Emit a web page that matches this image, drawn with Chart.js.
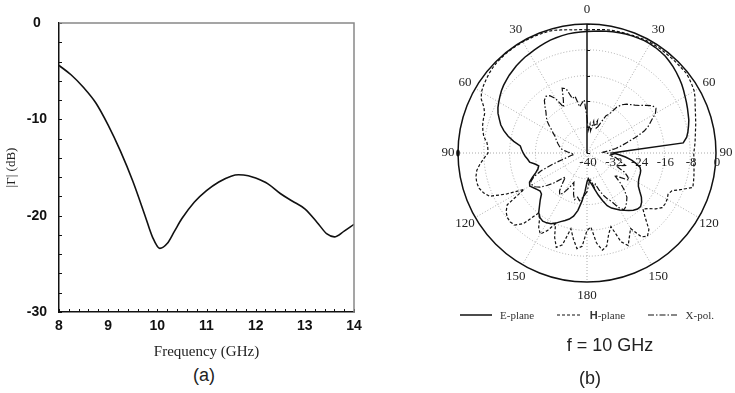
<!DOCTYPE html>
<html lang="en">
<head>
  <meta charset="UTF-8" />
  <title>Reflection coefficient and radiation pattern</title>
  <script src="https://cdn.jsdelivr.net/npm/chart.js"></script>
  <style>
    body {
      margin: 0;
      width: 735px;
      height: 393px;
      background: #fff;
      position: relative;
      overflow: hidden;
      font-family: "Liberation Serif", serif;
      color: #222;
    }
    #chartA { position: absolute; left: 0; top: 0; }
    #chartB { position: absolute; left: 435px; top: 0; }
    .caption {
      position: absolute;
      font-family: "Liberation Sans", Arial, sans-serif;
      font-size: 18px;
      transform: translateX(-50%);
      white-space: nowrap;
    }
    #legendB {
      position: absolute;
      left: 460px;
      top: 309px;
      width: 254px;
      display: flex;
      justify-content: space-between;
      align-items: center;
      font-size: 11px;
      color: #333;
    }
    #legendB .item { display: flex; align-items: center; }
    #legendB svg { margin-right: 8px; }
    #legendB b { font-family: "Liberation Sans", Arial, sans-serif; }
  </style>
</head>
<body>

  <canvas id="chartA" width="370" height="365"></canvas>
  <canvas id="chartB" width="300" height="310"></canvas>

  <div id="legendB"></div>
  <div class="caption" style="left: 610px; top: 335px;">f = 10 GHz</div>
  <div class="caption" style="left: 204px; top: 365px;">(a)</div>
  <div class="caption" style="left: 590px; top: 368px;">(b)</div>

  <script>
    // ---- (a) reflection coefficient vs frequency ----
    const freqGHz = [8.0, 8.25, 8.5, 8.75, 9.0, 9.25, 9.5, 9.75, 9.9, 10.05,
                     10.2, 10.35, 10.5, 10.75, 11.0, 11.25, 11.5, 11.65, 11.85, 12.0,
                     12.25, 12.5, 12.75, 13.0, 13.25, 13.45, 13.6, 13.8, 14.0];
    const gammaDb = [-4.4, -5.4, -6.7, -8.3, -10.6, -13.3, -16.4, -20.0, -22.2, -23.4,
                     -22.9, -21.6, -20.3, -18.6, -17.4, -16.5, -15.9, -15.75, -15.85, -16.1,
                     -16.7, -17.7, -18.5, -19.3, -20.7, -21.9, -22.2, -21.6, -20.9];

    // ---- (b) radiation pattern at 10 GHz, angle in degrees, level in dB ----
    const angles = [0, 3, 6, 9, 12, 15, 18, 21, 24, 27, 30, 33, 36, 39, 42, 45, 48, 51, 54, 57,
                    60, 63, 66, 69, 72, 75, 78, 81, 84, 87, 90, 93, 96, 99, 102, 105, 108, 111, 114, 117,
                    120, 123, 126, 129, 132, 135, 138, 141, 144, 147, 150, 153, 156, 159, 162, 165, 168, 171, 174, 177,
                    180, 183, 186, 189, 192, 195, 198, 201, 204, 207, 210, 213, 216, 219, 222, 225, 228, 231, 234, 237,
                    240, 243, 246, 249, 252, 255, 258, 261, 264, 267, 270, 273, 276, 279, 282, 285, 288, 291, 294, 297,
                    300, 303, 306, 309, 312, 315, 318, 321, 324, 327, 330, 333, 336, 339, 342, 345, 348, 351, 354, 357];

    const ePlane = [-2.3, -2.2, -2.0, -1.8, -1.6, -1.4, -1.2, -1.1, -1.0, -0.9,
                    -0.9, -1.0, -1.2, -1.4, -1.8, -2.2, -2.7, -3.2, -3.7, -4.3,
                    -4.9, -5.4, -5.9, -6.4, -6.8, -7.4, -8.0, -8.7, -10.0, -28,
                    -32, -30, -28, -26, -24.5, -23, -22.5, -22.3, -22.2, -22,
                    -21.6, -21, -19.8, -18.3, -17.2, -16.5, -16.6, -17.2, -18, -18.8,
                    -19.6, -20.5, -21.3, -22.5, -24.5, -26.5, -28.5, -30, -31, -32,
                    -31, -28, -25, -22, -20, -18.8, -18, -17.2, -16.2, -15.4,
                    -15, -14.8, -15.2, -16.2, -18, -19.5, -21, -21.3, -20.8, -20.2,
                    -19.5, -20, -21.5, -23, -24, -24.5, -23.5, -22, -21.5, -20.8,
                    -20.2, -19.7, -19.2, -17, -15, -13.3, -11.9, -10.9, -9.8, -9.0,
                    -8.4, -7.8, -7.2, -6.7, -6.3, -5.9, -5.6, -5.2, -4.9, -4.6,
                    -4.4, -4.1, -3.8, -3.5, -3.2, -3.0, -2.8, -2.6, -2.5, -2.4];

    const hPlane = [-1.8, -1.7, -1.5, -1.3, -1.2, -1.1, -1.0, -0.9, -0.7, -0.6,
                    -0.5, -0.5, -0.5, -0.6, -0.6, -0.6, -0.6, -0.5, -0.8, -1.2,
                    -1.6, -2.4, -3.3, -4.0, -4.6, -5.1, -5.6, -6.0, -6.3, -6.6,
                    -6.9, -6.8, -6.7, -6.4, -6.1, -5.8, -5.5, -8.5, -11.2, -11.8,
                    -11.3, -11.1, -11.2, -12.5, -14.2, -15.5, -13, -9.5, -8.1, -9.0,
                    -13, -11, -8.6, -10.5, -16, -14, -10.5, -9.5, -12, -17,
                    -16, -11, -10.2, -13, -16, -10.5, -9.2, -12, -16, -13,
                    -11, -12.5, -15, -16, -10.5, -8.4, -8.0, -8.2, -9.0, -10.5,
                    -17.5, -12, -7.0, -5.6, -4.8, -4.6, -4.8, -5.4, -6.6, -8.0,
                    -9.3, -9.2, -8.8, -7.6, -7.0, -6.5, -6.2, -6.0, -5.0, -3.2,
                    -2.2, -1.7, -1.3, -0.9, -0.6, -0.4, -0.3, -0.2, -0.2, -0.2,
                    -0.2, -0.3, -0.3, -0.4, -0.4, -0.6, -1.0, -1.3, -1.6, -1.7];

    const xPol = [-29, -33, -31, -33, -30, -31.5, -29.5, -32, -30, -27,
                  -26, -23, -21.5, -20.5, -19.8, -19, -18, -16.5, -15, -14.5,
                  -15.5, -17.5, -19, -21, -24, -27, -29, -31, -33, -35,
                  -34, -32, -33, -31, -30, -29, -27.5, -29, -30, -27,
                  -25.5, -24.5, -27, -29, -26, -23.5, -21.5, -20.5, -19.5, -19,
                  -20.5, -23, -24.5, -26, -28, -30, -29, -31, -32, -30,
                  -28, -27, -26, -25, -26, -25, -26.5, -28.5, -30, -28,
                  -26, -24.5, -25.5, -28, -30, -28.5, -26, -24, -22, -20.8,
                  -20.3, -20.5, -22, -25, -29, -32, -34, -35, -36, -35.5,
                  -35, -34, -33, -32, -31.5, -31, -30.5, -30, -29.5, -29,
                  -28, -27, -25.5, -24, -23, -22, -20.5, -19, -18.3, -18.8,
                  -20.5, -24, -22, -18.5, -19, -22.5, -22, -25.5, -24.5, -23.5];

    const rTicks = [-40, -32, -24, -16, -8, 0];
    const seriesNames = ["E-plane", "H-plane", "X-pol."];

    const serif = '"Liberation Serif", "Times New Roman", serif';
    const sans = '"Liberation Sans", Arial, sans-serif';
    const lineDash = [[], [3, 2], [6, 2, 1.5, 2]];
    const lineWidth = [1.5, 1.2, 1.2];

    // inward minor ticks plus the grey top/right frame of plot (a)
    const frameTicks = {
      id: "frameTicks",
      afterDraw(chart) {
        const { ctx, chartArea: a, scales: { x, y } } = chart;
        ctx.save();
        ctx.strokeStyle = "#111";
        ctx.lineWidth = 1;
        ctx.beginPath();
        for (let k = 0; k <= 30; k++) {
          const px = Math.round(x.getPixelForValue(8 + k * 0.2)) + 0.5;
          ctx.moveTo(px, a.bottom);
          ctx.lineTo(px, a.bottom - 3);
        }
        for (let k = 0; k <= 15; k++) {
          const py = Math.round(y.getPixelForValue(-30 + k * 2)) + 0.5;
          ctx.moveTo(a.left, py);
          ctx.lineTo(a.left + 3, py);
        }
        ctx.stroke();
        ctx.strokeStyle = "#888";
        ctx.lineWidth = 1.5;
        ctx.beginPath();
        ctx.moveTo(a.left, a.top);
        ctx.lineTo(a.right, a.top);
        ctx.lineTo(a.right, a.bottom);
        ctx.stroke();
        ctx.restore();
      }
    };

    new Chart(document.getElementById("chartA"), {
      type: "line",
      data: {
        datasets: [{
          data: freqGHz.map((f, i) => ({ x: f, y: gammaDb[i] })),
          borderColor: "#111",
          borderWidth: 1.6,
          pointRadius: 0,
          cubicInterpolationMode: "monotone",
          fill: false
        }]
      },
      options: {
        responsive: false,
        animation: false,
        devicePixelRatio: 1,
        events: [],
        layout: { padding: { left: 0, top: 23, right: 16, bottom: 0 } },
        plugins: { legend: { display: false }, tooltip: { enabled: false } },
        scales: {
          x: {
            type: "linear",
            min: 8,
            max: 14,
            afterFit: s => { s.height = 53; },
            grid: { display: false, drawTicks: false },
            border: { color: "#111", width: 1.5 },
            ticks: { stepSize: 1, padding: 6, maxRotation: 0, color: "#111",
                     font: { family: sans, size: 14, weight: "bold" } },
            title: { display: true, text: "Frequency (GHz)", color: "#222",
                     font: { family: serif, size: 15 }, padding: { top: 4, bottom: 4 } }
          },
          y: {
            min: -30,
            max: 0,
            afterFit: s => { s.width = 59; },
            grid: { display: false, drawTicks: false },
            border: { color: "#111", width: 1.5 },
            ticks: { stepSize: 10, padding: 12, crossAlign: "center", color: "#111",
                     font: { family: sans, size: 14, weight: "bold" } },
            title: { display: true, text: "|Γ| (dB)", color: "#222",
                     font: { family: serif, size: 13 }, padding: { top: 4, bottom: 4 } }
          }
        }
      },
      plugins: [frameTicks]
    });

    // angle labels, dB labels and the ticks on the 0° spoke of plot (b)
    const polarText = {
      id: "polarText",
      beforeDatasetsDraw(chart) {
        const r = chart.scales.r;
        const ctx = chart.ctx;
        ctx.save();
        ctx.fillStyle = "#222";
        ctx.font = "13px " + serif;
        ctx.textAlign = "center";
        ctx.textBaseline = "middle";
        rTicks.forEach(v => {
          const d = r.getDistanceFromCenterForValue(v);
          ctx.fillText(String(v), r.xCenter + d + 1, r.yCenter + 10);
        });
        angles.forEach((a, i) => {
          if (a % 30) return;
          const gap = 10 + 4 * Math.abs(Math.cos(a * Math.PI / 180));
          const p = r.getPointPosition(i, r.drawingArea + gap);
          ctx.fillText(String(a <= 180 ? a : 360 - a), p.x, p.y);
        });
        ctx.strokeStyle = "#111";
        ctx.lineWidth = 1;
        ctx.beginPath();
        rTicks.forEach(v => {
          const d = Math.round(r.getDistanceFromCenterForValue(v));
          ctx.moveTo(r.xCenter, r.yCenter - d + 0.5);
          ctx.lineTo(r.xCenter + 3, r.yCenter - d + 0.5);
        });
        ctx.stroke();
        const m = r.getPointPosition(angles.indexOf(270), r.drawingArea);
        ctx.fillStyle = "#111";
        ctx.beginPath();
        ctx.ellipse(m.x, m.y, 1.8, 3.5, 0, 0, Math.PI * 2);
        ctx.fill();
        ctx.restore();
      }
    };

    const patterns = [ePlane, hPlane, xPol];

    new Chart(document.getElementById("chartB"), {
      type: "radar",
      data: {
        labels: angles,
        datasets: patterns.map((vals, k) => ({
          label: seriesNames[k],
          data: vals,
          borderColor: "#111",
          borderWidth: lineWidth[k],
          borderDash: lineDash[k],
          pointRadius: 0,
          fill: false,
          tension: 0
        }))
      },
      options: {
        responsive: false,
        animation: false,
        devicePixelRatio: 1,
        events: [],
        layout: { padding: { left: 23, top: 24, right: 19, bottom: 28 } },
        plugins: { legend: { display: false }, tooltip: { enabled: false } },
        scales: {
          r: {
            min: -40,
            max: 0,
            ticks: { stepSize: 8, display: false },
            pointLabels: { display: false },
            grid: {
              circular: true,
              color: c => (c.tick && c.tick.value === 0 ? "#111" : "#aaa"),
              lineWidth: c => (c.tick && c.tick.value === 0 ? 1.5 : 1)
            },
            border: { dash: c => (c.tick && c.tick.value === 0 ? [] : [1, 2]) },
            angleLines: {
              display: true,
              color: c => (c.index === 0 ? "#111" : "#aaa"),
              lineWidth: c => (angles[c.index] % 30 === 0 ? (c.index === 0 ? 1.5 : 1) : 0),
              borderDash: c => (c.index === 0 ? [] : [1, 2])
            }
          }
        }
      },
      plugins: [polarText]
    });

    // legend of plot (b)
    const legendB = document.getElementById("legendB");
    seriesNames.forEach((name, k) => {
      const item = document.createElement("div");
      item.className = "item";
      const w = k === 0 ? 32 : (k === 1 ? 25 : 30);
      item.innerHTML =
        `<svg width="${w}" height="6"><line x1="0" y1="3" x2="${w}" y2="3" stroke="#111" ` +
        `stroke-width="${lineWidth[k]}" stroke-dasharray="${lineDash[k].join(" ") || "none"}"/></svg>` +
        `<span>${name === "H-plane" ? "<b>H</b>-plane" : name}</span>`;
      legendB.appendChild(item);
    });
  </script>
</body>
</html>
